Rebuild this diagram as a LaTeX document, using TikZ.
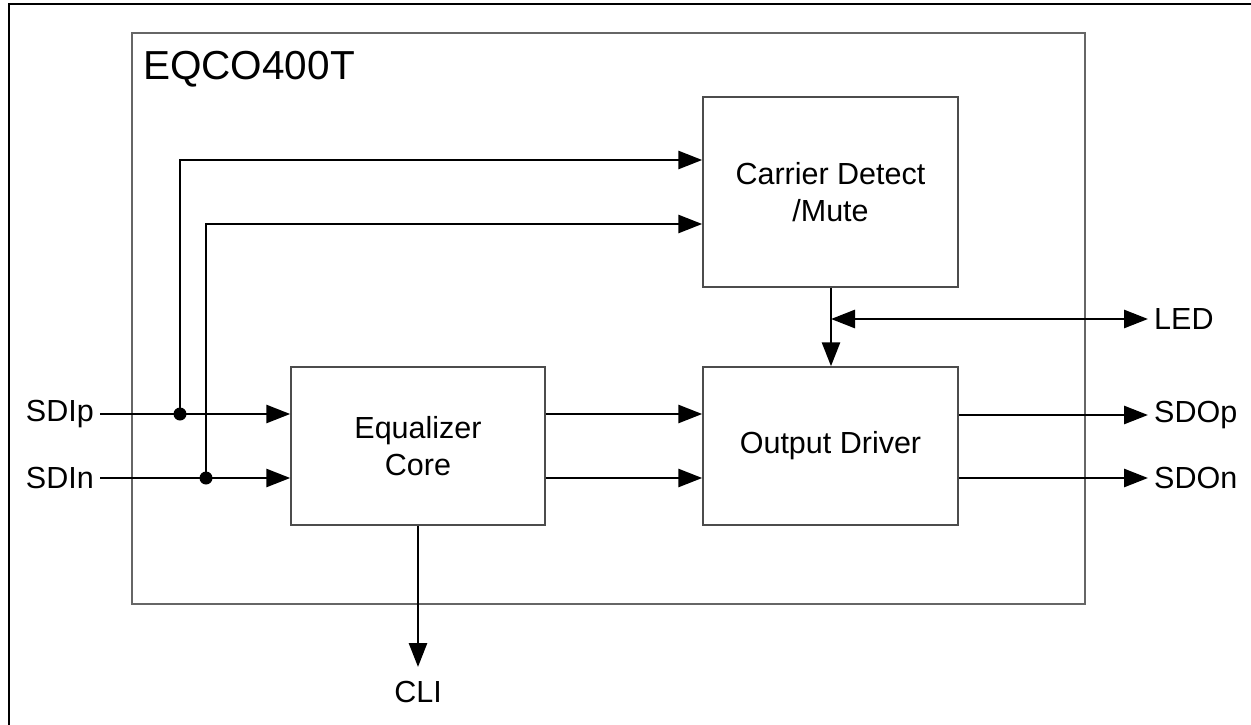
\documentclass[tikz,border=0pt]{standalone}
\usepackage{fontspec}
\setmainfont{Liberation Sans}
\usetikzlibrary{arrows.meta}
\begin{document}
\begin{tikzpicture}[x=1pt,y=-1pt,
  blk/.style={draw=black!70, line width=1.5pt, fill=white, align=center,
    font=\fontsize{30.5}{37}\selectfont, inner sep=0pt},
  wire/.style={line width=2.8pt},
  arr/.style={wire, -{Triangle[length=24pt,width=18pt]}},
  darr/.style={wire, {Triangle[length=24pt,width=18pt]}-{Triangle[length=24pt,width=18pt]}},
  lbl/.style={font=\fontsize{30.5}{36}\selectfont, inner xsep=6pt, inner ysep=0pt},
  dot/.style={circle, fill=black, inner sep=0pt, minimum size=13pt}
]
\useasboundingbox (0,0) rectangle (1251,725);
% outer frame
\draw[line width=2.2pt] (9,725) -- (9,4) -- (1251,4);
% chip outline
\draw[draw=black!60, line width=1.2pt] (132,33) rectangle (1085,604);
\node[anchor=base west, inner sep=0pt, font=\fontsize{40.5}{48}\selectfont] (title) at (143,80) {EQCO400T};
% blocks
\node[blk, minimum width=255pt, minimum height=190pt] (cd) at (830.5,192) {Carrier Detect\\/Mute};
\node[blk, minimum width=254pt, minimum height=158pt] (eq) at (418,446) {Equalizer\\Core};
\node[blk, minimum width=255pt, minimum height=158pt] (od) at (830.5,446) {Output Driver};
% input labels
\node[lbl, anchor=east] (sdip) at (100,414) {SDIp};
\node[lbl, anchor=east] (sdin) at (100,478) {SDIn};
% output labels
\node[lbl, anchor=west] (sdop) at (1148,415) {SDOp};
\node[lbl, anchor=west] (sdon) at (1148,478) {SDOn};
\node[lbl, anchor=west] (led) at (1148,319) {LED};
\node[font=\fontsize{30.5}{36}\selectfont, inner sep=0pt] (cli) at (418,692) {CLI};
\coordinate (cliend) at (418,667);
% junctions
\node[dot] (j1) at (180,414) {};
\node[dot] (j2) at (206,478) {};
\coordinate (ledj) at (831,319);
% connectors
\draw[arr] (sdip.east) -- (sdip.east -| eq.west);
\draw[arr] (sdin.east) -- (sdin.east -| eq.west);
\draw[arr] (j1.center) -- (180,160) -- (cd.west |- 0,160);
\draw[arr] (j2.center) -- (206,224) -- (cd.west |- 0,224);
\draw[arr] (eq.east |- 0,414) -- (od.west |- 0,414);
\draw[arr] (eq.east |- 0,478) -- (od.west |- 0,478);
\draw[arr] (od.east |- sdop.west) -- (sdop.west);
\draw[arr] (od.east |- sdon.west) -- (sdon.west);
\draw[arr] (cd.south -| ledj) -- (od.north -| ledj);
\draw[darr] (ledj) -- (led.west);
\draw[arr] (eq.south) -- (cliend);
\end{tikzpicture}
\end{document}
